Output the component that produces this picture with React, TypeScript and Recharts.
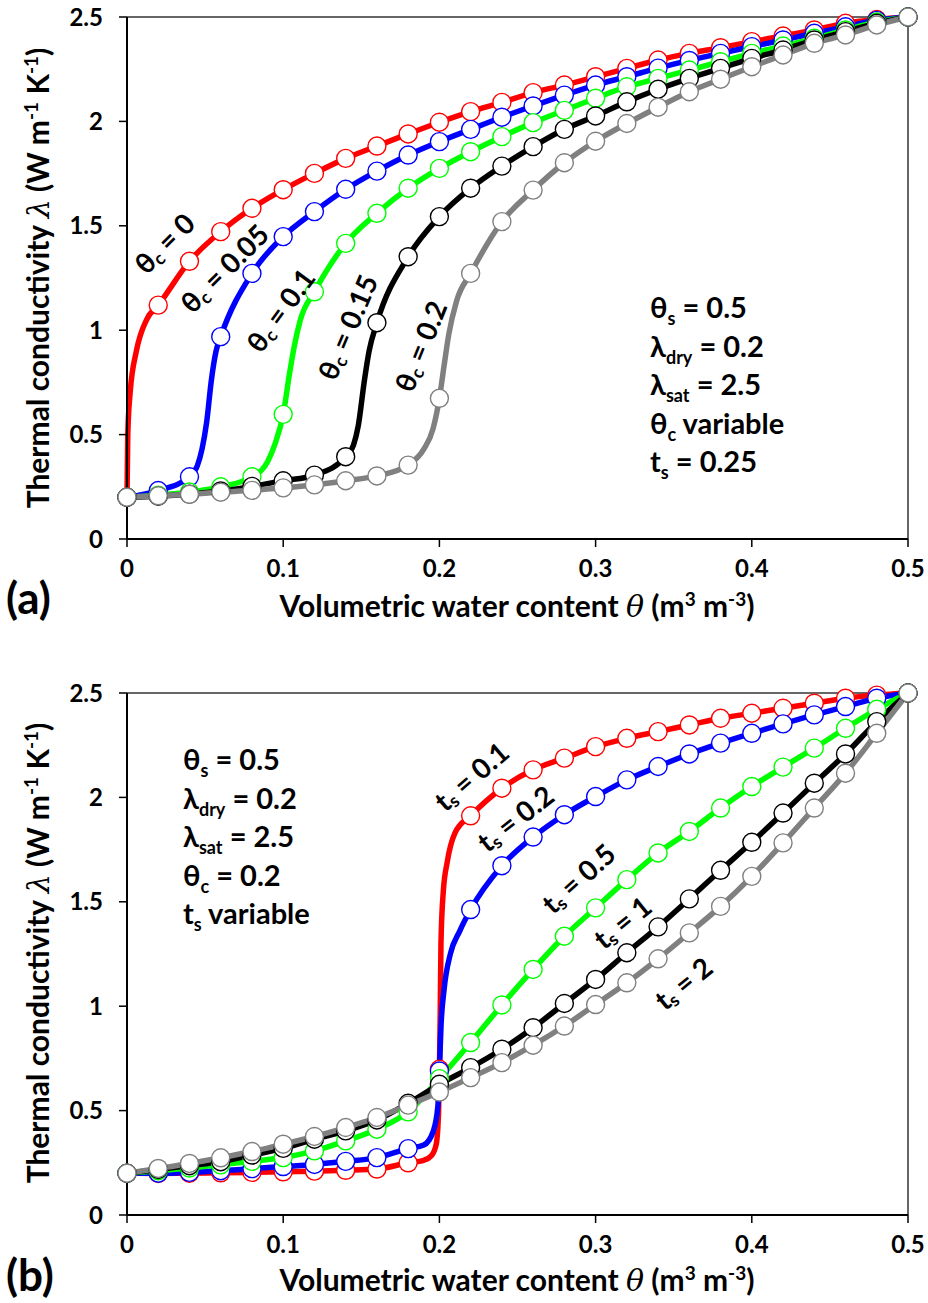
import { LineChart, Line, XAxis, YAxis, ReferenceLine } from "recharts";

const FONT = "Lato, 'Open Sans', sans-serif";

// water content at which the markers sit
const THETA = [
  0, 0.02, 0.04, 0.06, 0.08, 0.1, 0.12, 0.14, 0.16, 0.18, 0.2, 0.22, 0.24,
  0.26, 0.28, 0.3, 0.32, 0.34, 0.36, 0.38, 0.4, 0.42, 0.44, 0.46, 0.48, 0.5,
];
const X_TICKS = [0, 0.1, 0.2, 0.3, 0.4, 0.5];
const Y_TICKS = [0, 0.5, 1, 1.5, 2, 2.5];

// (a) theta_c variable, t_s = 0.25
const A_TC0 = [0.2, 1.12, 1.33, 1.472, 1.584, 1.673, 1.751, 1.823, 1.882, 1.94, 1.996, 2.047, 2.091, 2.138, 2.174, 2.214, 2.254, 2.294, 2.326, 2.353, 2.382, 2.409, 2.438, 2.47, 2.488, 2.5];
const A_TC005 = [0.2, 0.232, 0.298, 0.969, 1.272, 1.448, 1.568, 1.675, 1.762, 1.839, 1.903, 1.962, 2.02, 2.074, 2.126, 2.174, 2.214, 2.255, 2.292, 2.326, 2.358, 2.39, 2.422, 2.453, 2.484, 2.5];
const A_TC01 = [0.2, 0.21, 0.225, 0.25, 0.298, 0.597, 1.184, 1.416, 1.56, 1.68, 1.775, 1.855, 1.927, 1.994, 2.053, 2.111, 2.166, 2.206, 2.246, 2.286, 2.326, 2.361, 2.398, 2.438, 2.476, 2.5];
const A_TC015 = [0.2, 0.205, 0.215, 0.23, 0.252, 0.279, 0.306, 0.394, 1.036, 1.352, 1.544, 1.68, 1.786, 1.879, 1.962, 2.026, 2.094, 2.154, 2.206, 2.254, 2.302, 2.342, 2.39, 2.43, 2.47, 2.5];
const A_TC02 = [0.2, 0.207, 0.214, 0.224, 0.233, 0.245, 0.259, 0.279, 0.302, 0.354, 0.674, 1.272, 1.52, 1.671, 1.802, 1.905, 1.99, 2.068, 2.142, 2.202, 2.262, 2.318, 2.374, 2.414, 2.462, 2.5];

// extra points of the continuous curves on their steep parts [theta, lambda]
const A_TC0_LINE = [[0.0005, 0.5], [0.002, 0.7], [0.006, 0.9], [0.0125, 1.05]];
const A_TC005_LINE = [[0.045, 0.35], [0.048, 0.43], [0.051, 0.56], [0.054, 0.76], [0.057, 0.9]];
const A_TC01_LINE = [[0.09, 0.37], [0.095, 0.46], [0.104, 0.79], [0.107, 0.92], [0.111, 1.05]];
const A_TC015_LINE = [[0.145, 0.45], [0.148, 0.54], [0.152, 0.76], [0.155, 0.9]];
const A_TC02_LINE = [[0.19, 0.43], [0.196, 0.53], [0.203, 0.83], [0.206, 0.98], [0.211, 1.14]];

// (b) t_s variable, theta_c = 0.2
const B_TS01 = [0.2, 0.199, 0.2, 0.202, 0.204, 0.207, 0.21, 0.214, 0.22, 0.25, 0.698, 1.912, 2.044, 2.132, 2.188, 2.243, 2.283, 2.315, 2.347, 2.379, 2.403, 2.427, 2.451, 2.475, 2.49, 2.5];
const B_TS02 = [0.2, 0.2, 0.204, 0.212, 0.222, 0.232, 0.242, 0.257, 0.275, 0.318, 0.69, 1.463, 1.673, 1.81, 1.917, 2.004, 2.084, 2.148, 2.208, 2.26, 2.307, 2.352, 2.395, 2.435, 2.475, 2.5];
const B_TS05 = [0.2, 0.212, 0.225, 0.24, 0.257, 0.275, 0.307, 0.355, 0.411, 0.494, 0.653, 0.826, 1.006, 1.176, 1.335, 1.471, 1.606, 1.734, 1.837, 1.949, 2.052, 2.145, 2.236, 2.331, 2.422, 2.5];
const B_TS1 = [0.2, 0.218, 0.236, 0.255, 0.287, 0.319, 0.363, 0.403, 0.455, 0.535, 0.626, 0.706, 0.794, 0.897, 1.013, 1.128, 1.256, 1.38, 1.514, 1.651, 1.785, 1.925, 2.068, 2.208, 2.363, 2.5];
const B_TS2 = [0.2, 0.223, 0.247, 0.274, 0.304, 0.339, 0.376, 0.419, 0.467, 0.526, 0.589, 0.658, 0.73, 0.813, 0.905, 1.008, 1.112, 1.227, 1.351, 1.478, 1.622, 1.782, 1.949, 2.116, 2.307, 2.5];

const B_TS01_LINE = [[0.19, 0.262], [0.195, 0.285], [0.198, 0.34], [0.1995, 0.5], [0.2005, 0.95], [0.201, 1.3], [0.2025, 1.55], [0.205, 1.69], [0.21, 1.83]];
const B_TS02_LINE = [[0.19, 0.335], [0.196, 0.4], [0.199, 0.52], [0.201, 0.9], [0.203, 1.08], [0.207, 1.25], [0.213, 1.36]];

type Pt = { x: number; y: number; mark: boolean };

function series(marks: number[], extra: number[][] = []): Pt[] {
  const pts: Pt[] = THETA.map((t, i) => ({ x: t, y: marks[i], mark: true }));
  extra.forEach(([x, y]) => pts.push({ x, y, mark: false }));
  return pts.sort((a, b) => a.x - b.x);
}

const PANEL_A = [
  { name: "tc0", color: "#ff0000", data: series(A_TC0, A_TC0_LINE) },
  { name: "tc005", color: "#0000ff", data: series(A_TC005, A_TC005_LINE) },
  { name: "tc01", color: "#00ff00", data: series(A_TC01, A_TC01_LINE) },
  { name: "tc015", color: "#000000", data: series(A_TC015, A_TC015_LINE) },
  { name: "tc02", color: "#808080", data: series(A_TC02, A_TC02_LINE) },
];

const PANEL_B = [
  { name: "ts01", color: "#ff0000", data: series(B_TS01, B_TS01_LINE) },
  { name: "ts02", color: "#0000ff", data: series(B_TS02, B_TS02_LINE) },
  { name: "ts05", color: "#00ff00", data: series(B_TS05) },
  { name: "ts1", color: "#000000", data: series(B_TS1) },
  { name: "ts2", color: "#808080", data: series(B_TS2) },
];

const markerDot = (color: string) => (props: any) => {
  const { cx, cy, payload, index } = props;
  if (!payload || !payload.mark) return <g key={index} />;
  return (
    <circle key={index} cx={cx} cy={cy} r={9} fill="#fff" stroke={color} strokeWidth={1.4} />
  );
};

function Panel({ lines }: { lines: { name: string; color: string; data: Pt[] }[] }) {
  const tick = { fill: "#000", fontSize: 24, fontWeight: 700, fontFamily: FONT };
  return (
    <LineChart width={928} height={627} margin={{ top: 17, right: 20, left: 0, bottom: 48 }}>
      <XAxis
        dataKey="x"
        type="number"
        domain={[0, 0.5]}
        ticks={X_TICKS}
        tickFormatter={(v) => String(v)}
        height={40}
        tick={tick}
        tickSize={8}
        tickMargin={13}
        axisLine={{ stroke: "#000", strokeWidth: 2 }}
        tickLine={{ stroke: "#000", strokeWidth: 1.5 }}
      />
      <YAxis
        type="number"
        domain={[0, 2.5]}
        ticks={Y_TICKS}
        tickFormatter={(v) => String(v)}
        width={127}
        tick={tick}
        tickSize={8}
        tickMargin={16}
        axisLine={{ stroke: "#000", strokeWidth: 2 }}
        tickLine={{ stroke: "#000", strokeWidth: 1.5 }}
      />
      <ReferenceLine y={2.5} stroke="#333" strokeWidth={1.5} />
      <ReferenceLine x={0.5} stroke="#333" strokeWidth={1.5} />
      {lines.map((s) => (
        <Line
          key={s.name}
          data={s.data}
          dataKey="y"
          type="monotone"
          stroke={s.color}
          strokeWidth={5.5}
          dot={markerDot(s.color)}
          activeDot={false}
          isAnimationActive={false}
        />
      ))}
    </LineChart>
  );
}

const sub = (s: string, size = 18) => (
  <>
    <tspan dy={7} fontSize={size}>{s}</tspan>
    <tspan dy={-7}> </tspan>
  </>
);

function CurveLabel({ x, y, angle, sym, s, val }: { x: number; y: number; angle: number; sym: string; s: string; val: string }) {
  return (
    <text
      transform={`translate(${x},${y}) rotate(${angle})`}
      textAnchor="middle"
      dominantBaseline="central"
      fontSize={28}
      fontWeight={700}
      fontFamily={FONT}
    >
      {sym}
      <tspan dy={7} fontSize={18}>{s}</tspan>
      <tspan dy={-7}>{` = ${val}`}</tspan>
    </text>
  );
}

function ParamBlock({ x, y, last }: { x: number; y: number; last: "a" | "b" }) {
  const lh = 38.5;
  return (
    <text fontSize={29} fontWeight={700} fontFamily={FONT} fill="#000">
      <tspan x={x} y={y}>θ</tspan>
      {sub("s")}
      <tspan>= 0.5</tspan>
      <tspan x={x} y={y + lh}>λ</tspan>
      {sub("dry")}
      <tspan>= 0.2</tspan>
      <tspan x={x} y={y + 2 * lh}>λ</tspan>
      {sub("sat")}
      <tspan>= 2.5</tspan>
      <tspan x={x} y={y + 3 * lh}>θ</tspan>
      {last === "a" ? (
        <>
          {sub("c")}
          <tspan>variable</tspan>
          <tspan x={x} y={y + 4 * lh}>t</tspan>
          {sub("s")}
          <tspan>= 0.25</tspan>
        </>
      ) : (
        <>
          {sub("c")}
          <tspan>= 0.2</tspan>
          <tspan x={x} y={y + 4 * lh}>t</tspan>
          {sub("s")}
          <tspan>variable</tspan>
        </>
      )}
    </text>
  );
}

function XTitle({ y }: { y: number }) {
  return (
    <text x={517} y={y} textAnchor="middle" fontSize={30} fontWeight={700} fontFamily={FONT}>
      Volumetric water content{" "}
      <tspan fontFamily="'DejaVu Serif', serif" fontStyle="italic" fontWeight={400}>θ</tspan>
      <tspan> (m</tspan>
      <tspan dy={-11} fontSize={19}>3</tspan>
      <tspan dy={11}> m</tspan>
      <tspan dy={-11} fontSize={19}>-3</tspan>
      <tspan dy={11}>)</tspan>
    </text>
  );
}

function YTitle({ cy }: { cy: number }) {
  return (
    <text
      transform={`translate(49,${cy}) rotate(-90)`}
      textAnchor="middle"
      fontSize={30}
      fontWeight={700}
      fontFamily={FONT}
    >
      Thermal conductivity{" "}
      <tspan fontFamily="'DejaVu Serif', serif" fontStyle="italic" fontWeight={400}>λ</tspan>
      <tspan> (W m</tspan>
      <tspan dy={-11} fontSize={19}>-1</tspan>
      <tspan dy={11}> K</tspan>
      <tspan dy={-11} fontSize={19}>-1</tspan>
      <tspan dy={11}>)</tspan>
    </text>
  );
}

export default function App() {
  return (
    <div style={{ position: "absolute", left: 0, top: 0, width: 928, height: 1303, background: "#fff" }}>
      <div style={{ position: "absolute", left: 0, top: 0 }}>
        <Panel lines={PANEL_A} />
      </div>
      <div style={{ position: "absolute", left: 0, top: 676 }}>
        <Panel lines={PANEL_B} />
      </div>
      <svg
        width={928}
        height={1303}
        style={{ position: "absolute", left: 0, top: 0, pointerEvents: "none" }}
      >
        {/* panel (a) */}
        <CurveLabel x={164} y={243} angle={-45} sym="θ" s="c" val="0" />
        <CurveLabel x={224} y={268} angle={-45} sym="θ" s="c" val="0.05" />
        <CurveLabel x={280} y={310} angle={-54} sym="θ" s="c" val="0.1" />
        <CurveLabel x={347} y={327} angle={-67} sym="θ" s="c" val="0.15" />
        <CurveLabel x={420} y={346} angle={-68} sym="θ" s="c" val="0.2" />
        <ParamBlock x={650} y={318} last="a" />
        <XTitle y={617} />
        <YTitle cy={278} />
        <text x={6} y={614} fontSize={44} fontWeight={700} fontFamily={FONT}>(a)</text>

        {/* panel (b) */}
        <CurveLabel x={471} y={776} angle={-41} sym="t" s="s" val="0.1" />
        <CurveLabel x={515} y={818} angle={-38} sym="t" s="s" val="0.2" />
        <CurveLabel x={578} y={878} angle={-42} sym="t" s="s" val="0.5" />
        <CurveLabel x={622} y={922} angle={-39} sym="t" s="s" val="1" />
        <CurveLabel x={683} y={983} angle={-39} sym="t" s="s" val="2" />
        <ParamBlock x={183} y={770} last="b" />
        <XTitle y={1291} />
        <YTitle cy={953} />
        <text x={6} y={1291} fontSize={44} fontWeight={700} fontFamily={FONT}>(b)</text>
      </svg>
    </div>
  );
}
